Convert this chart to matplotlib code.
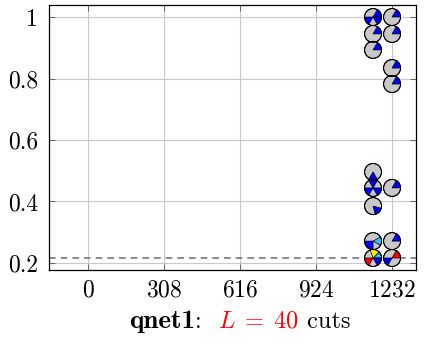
import matplotlib
matplotlib.use("Agg")
import matplotlib.pyplot as plt
from matplotlib.patches import Circle, Wedge
from matplotlib.transforms import Affine2D, ScaledTranslation
from matplotlib.offsetbox import TextArea, HPacker, AnchoredOffsetbox

plt.rcParams['font.family'] = 'cmr10'
plt.rcParams['mathtext.fontset'] = 'cm'
plt.rcParams['axes.formatter.use_mathtext'] = True

# cut counts (x), scores (y) and the coloured sectors of each glyph
cuts = [1155, 1155, 1155, 1155, 1155, 1155, 1155, 1155,
        1232, 1232, 1232, 1232, 1232, 1232, 1232]
scores = [1.0, 0.945, 0.893, 0.496, 0.444, 0.385, 0.271, 0.216,
          1.0, 0.945, 0.834, 0.782, 0.444, 0.271, 0.216]
sectors = [
    [(0, 60, 'blue'), (180, 240, 'blue'), (300, 360, 'blue')],
    [(0, 60, 'blue')],
    [(0, 60, 'blue')],
    [(240, 300, 'blue')],
    [(60, 120, 'blue'), (180, 240, 'blue'), (300, 360, 'blue')],
    [(285, 345, 'blue')],
    [(180, 270, 'blue'), (330, 390, '#33bbee')],
    [(0, 45, '#33bbee'), (45, 110, '#ffee00'), (180, 240, 'red'), (300, 360, 'blue')],
    [(0, 60, 'blue')],
    [(0, 60, 'blue')],
    [(0, 60, 'blue')],
    [(0, 60, 'blue')],
    [(0, 60, 'blue')],
    [(0, 60, 'blue')],
    [(0, 60, 'red'), (180, 240, 'blue')],
]
baseline = 0.216

xticks = [0, 308, 616, 924, 1232]
yticks = [0.2, 0.4, 0.6, 0.8, 1.0]
yticklabels = ['0.2', '0.4', '0.6', '0.8', '1']

fig = plt.figure(figsize=(4.25, 3.45), dpi=100)
ax = fig.add_axes([0.1153, 0.2174, 0.8635, 0.768])
ax.set_xlim(-158, 1329)
ax.set_ylim(0.177, 1.039)

ax.set_xticks(xticks)
ax.set_yticks(yticks)
ax.set_yticklabels(yticklabels)
ax.grid(True, color='#c8c8c8', linewidth=0.8)
ax.set_axisbelow(True)
ax.tick_params(direction='in', length=4, width=0.6, color='#555555',
               top=True, right=True, labelsize=17)
ax.tick_params(axis='x', pad=7)
ax.tick_params(axis='y', pad=8)
for s in ax.spines.values():
    s.set_linewidth(0.9)

ax.axhline(baseline, color='#777777', linestyle=(0, (4, 3)), linewidth=1.2, zorder=2)

# pie glyphs, sized in inches and centred on the data point
r = 0.085
for x, y, parts in zip(cuts, scores, sectors):
    tr = Affine2D().scale(r) + fig.dpi_scale_trans + ScaledTranslation(x, y, ax.transData)
    ax.add_patch(Circle((0, 0), 1, facecolor='#c8c8c8', edgecolor='black',
                        linewidth=0.7, transform=tr, zorder=3, clip_on=False))
    for t1, t2, c in parts:
        ax.add_patch(Wedge((0, 0), 1, t1, t2, facecolor=c, edgecolor='black',
                           linewidth=0.5, transform=tr, zorder=4, clip_on=False))
    ax.add_patch(Circle((0, 0), 1, facecolor='none', edgecolor='black',
                        linewidth=0.7, transform=tr, zorder=5, clip_on=False))

# x label with a coloured middle part
fs = 17.5
parts = [
    TextArea('qnet1', textprops=dict(family='cmb10', size=19.5)),
    TextArea(':  ', textprops=dict(family='cmr10', size=fs)),
    TextArea(r'$L \;=\; 40$', textprops=dict(size=fs, color='red')),
    TextArea(' cuts', textprops=dict(family='cmr10', size=fs)),
]
label = AnchoredOffsetbox(loc='upper center', child=HPacker(children=parts, pad=0, sep=0, align='baseline'),
                          bbox_to_anchor=(0.52, -0.15), bbox_transform=ax.transAxes,
                          frameon=False, borderpad=0, pad=0)
ax.add_artist(label)

fig.savefig('out.png', dpi=100)
